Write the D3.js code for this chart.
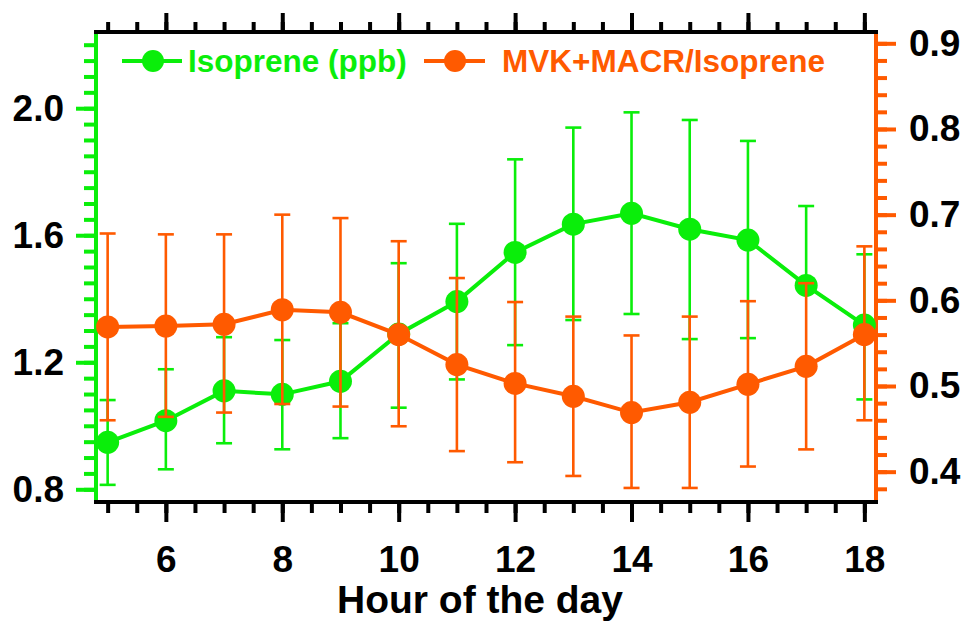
<!DOCTYPE html>
<html>
<head>
<meta charset="utf-8">
<script src="https://cdn.jsdelivr.net/npm/d3@7"></script>
<style>
  body { margin: 0; background: #fff; }
  text { font-family: "Liberation Sans", Arial, sans-serif; font-weight: bold; }
</style>
</head>
<body>
<div id="chart"></div>
<script>
// data
const hours = [5, 6, 7, 8, 9, 10, 11, 12, 13, 14, 15, 16, 17, 18];
const isoMean = [0.948, 1.016, 1.110, 1.099, 1.140, 1.289, 1.391, 1.546, 1.635, 1.669, 1.619, 1.585, 1.442, 1.317];
const isoHigh = [1.081, 1.178, 1.279, 1.270, 1.323, 1.512, 1.636, 1.839, 1.939, 1.987, 1.963, 1.897, 1.692, 1.540];
const isoLow  = [0.814, 0.863, 0.945, 0.926, 0.961, 1.057, 1.146, 1.254, 1.333, 1.352, 1.273, 1.276, 1.446, 1.083];
const ratioMean = [0.569, 0.570, 0.572, 0.589, 0.586, 0.560, 0.525, 0.503, 0.488, 0.469, 0.481, 0.502, 0.523, 0.560];
const ratioHigh = [0.678, 0.677, 0.677, 0.700, 0.696, 0.669, 0.626, 0.598, 0.581, 0.559, 0.581, 0.599, 0.620, 0.663];
const ratioLow  = [0.460, 0.464, 0.469, 0.479, 0.476, 0.453, 0.424, 0.411, 0.395, 0.381, 0.381, 0.406, 0.426, 0.460];

const xTicks = [6, 8, 10, 12, 14, 16, 18];
const leftTicks = [0.8, 1.2, 1.6, 2.0];
const rightTicks = [0.4, 0.5, 0.6, 0.7, 0.8, 0.9];
const legendLabels = ["Isoprene (ppb)", "MVK+MACR/Isoprene"];

const cfg = {
  width: 967,
  height: 621,
  left: 96, right: 876, top: 32, bottom: 502,
  green: "#0aee0a",
  orange: "#ff5a00",
  tickFont: 37
};

const svg = d3.select("#chart").append("svg")
  .attr("width", cfg.width)
  .attr("height", cfg.height);

svg.append("rect").attr("width", cfg.width).attr("height", cfg.height).attr("fill", "white");

const x = d3.scaleLinear().domain([4.8, 18.2]).range([cfg.left, cfg.right]);
const yL = d3.scaleLinear().domain([0.76, 2.24]).range([cfg.bottom, cfg.top]);
const yR = d3.scaleLinear().domain([0.3646, 0.9132]).range([cfg.bottom, cfg.top]);

const halfHours = d3.range(5, 18.01, 0.5);
const leftMinor = d3.range(0.8, 2.201, 0.05);
const rightMinor = d3.range(0.38, 0.901, 0.02);

function styleAxis(g, color, width) {
  g.select(".domain").remove();
  g.selectAll("line").attr("stroke", color).attr("stroke-width", width);
  g.selectAll("text").attr("fill", "black").attr("font-size", cfg.tickFont)
    .attr("font-family", "Liberation Sans, Arial, sans-serif").attr("font-weight", "bold");
}

// left axis (green)
svg.append("g").attr("transform", `translate(${cfg.left},0)`)
  .call(d3.axisLeft(yL).tickValues(leftMinor).tickSize(12).tickFormat(""))
  .call(g => styleAxis(g, cfg.green, 4));
svg.append("g").attr("transform", `translate(${cfg.left},0)`)
  .call(d3.axisLeft(yL).tickValues(leftTicks).tickSize(20).tickPadding(12).tickFormat(d3.format(".1f")))
  .call(g => styleAxis(g, cfg.green, 4));
svg.append("line")
  .attr("x1", cfg.left).attr("x2", cfg.left).attr("y1", cfg.top).attr("y2", cfg.bottom)
  .attr("stroke", cfg.green).attr("stroke-width", 4);

// right axis (orange)
svg.append("g").attr("transform", `translate(${cfg.right},0)`)
  .call(d3.axisRight(yR).tickValues(rightMinor).tickSize(11).tickFormat(""))
  .call(g => styleAxis(g, cfg.orange, 4));
svg.append("g").attr("transform", `translate(${cfg.right},0)`)
  .call(d3.axisRight(yR).tickValues(rightTicks).tickSize(20).tickPadding(13).tickFormat(d3.format(".1f")))
  .call(g => styleAxis(g, cfg.orange, 4));
svg.append("line")
  .attr("x1", cfg.right).attr("x2", cfg.right).attr("y1", cfg.top).attr("y2", cfg.bottom)
  .attr("stroke", cfg.orange).attr("stroke-width", 4);

// bottom and top axes (black)
svg.append("g").attr("transform", `translate(0,${cfg.bottom})`)
  .call(d3.axisBottom(x).tickValues(halfHours).tickSize(11).tickFormat(""))
  .call(g => styleAxis(g, "black", 4));
svg.append("g").attr("transform", `translate(0,${cfg.bottom})`)
  .call(d3.axisBottom(x).tickValues(xTicks).tickSize(20).tickPadding(24).tickFormat(d3.format("d")))
  .call(g => styleAxis(g, "black", 4));
svg.append("g").attr("transform", `translate(0,${cfg.top})`)
  .call(d3.axisTop(x).tickValues(halfHours).tickSize(10).tickFormat(""))
  .call(g => styleAxis(g, "black", 4));
svg.append("g").attr("transform", `translate(0,${cfg.top})`)
  .call(d3.axisTop(x).tickValues(xTicks).tickSize(19).tickFormat(""))
  .call(g => styleAxis(g, "black", 4));
svg.append("line")
  .attr("x1", cfg.left - 2).attr("x2", cfg.right + 2).attr("y1", cfg.bottom).attr("y2", cfg.bottom)
  .attr("stroke", "black").attr("stroke-width", 4);
svg.append("line")
  .attr("x1", cfg.left - 2).attr("x2", cfg.right + 2).attr("y1", cfg.top).attr("y2", cfg.top)
  .attr("stroke", "black").attr("stroke-width", 4);

svg.append("text")
  .attr("x", 480).attr("y", 613)
  .attr("text-anchor", "middle")
  .attr("font-size", 39)
  .attr("fill", "black")
  .text("Hour of the day");

function drawSeries(mean, low, high, y, color) {
  let pts = hours.map((h, i) => ({ h: h, m: mean[i], lo: low[i], hi: high[i] }));
  let g = svg.append("g");
  g.selectAll(".bar").data(pts).enter().append("line")
    .attr("x1", d => x(d.h)).attr("x2", d => x(d.h))
    .attr("y1", d => y(d.lo)).attr("y2", d => y(d.hi))
    .attr("stroke", color).attr("stroke-width", 2.6);
  g.selectAll(".capHi").data(pts).enter().append("line")
    .attr("x1", d => x(d.h) - 8).attr("x2", d => x(d.h) + 8)
    .attr("y1", d => y(d.hi)).attr("y2", d => y(d.hi))
    .attr("stroke", color).attr("stroke-width", 2.6);
  g.selectAll(".capLo").data(pts).enter().append("line")
    .attr("x1", d => x(d.h) - 8).attr("x2", d => x(d.h) + 8)
    .attr("y1", d => y(d.lo)).attr("y2", d => y(d.lo))
    .attr("stroke", color).attr("stroke-width", 2.6);
  g.append("path")
    .datum(pts)
    .attr("d", d3.line().x(d => x(d.h)).y(d => y(d.m)))
    .attr("fill", "none").attr("stroke", color).attr("stroke-width", 4);
  g.selectAll("circle").data(pts).enter().append("circle")
    .attr("cx", d => x(d.h)).attr("cy", d => y(d.m)).attr("r", 11.5)
    .attr("fill", color);
}

drawSeries(isoMean, isoLow, isoHigh, yL, cfg.green);
drawSeries(ratioMean, ratioLow, ratioHigh, yR, cfg.orange);

// legend
let legend = [
  { label: legendLabels[0], color: cfg.green, x0: 122, x1: 182, cx: 153, tx: 188 },
  { label: legendLabels[1], color: cfg.orange, x0: 424, x1: 485, cx: 455, tx: 502 }
];
let lg = svg.append("g");
legend.forEach(d => {
  lg.append("line").attr("x1", d.x0).attr("x2", d.x1).attr("y1", 61).attr("y2", 61)
    .attr("stroke", d.color).attr("stroke-width", 4);
  lg.append("circle").attr("cx", d.cx).attr("cy", 61).attr("r", 11).attr("fill", d.color);
  lg.append("text").attr("x", d.tx).attr("y", 72).attr("font-size", 31.5)
    .attr("fill", d.color).text(d.label);
});
</script>
</body>
</html>
